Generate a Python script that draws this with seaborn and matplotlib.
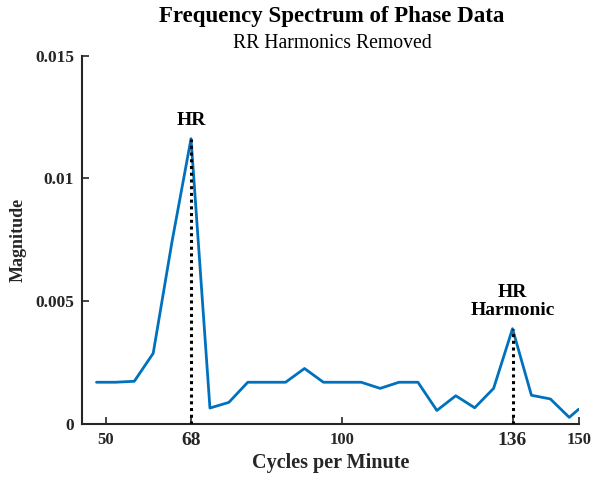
import matplotlib
matplotlib.use("Agg")
import matplotlib.pyplot as plt
import numpy as np
import pandas as pd
import seaborn as sns

# Spectrum values
cycles_per_min = [48, 52, 56, 60, 64, 68, 72, 76, 80, 84, 88, 92, 96, 100,
                  104, 108, 112, 116, 120, 124, 128, 132, 136, 140, 144, 148, 150]
magnitude = [0.00170, 0.00170, 0.00174, 0.00288, 0.00745, 0.01162, 0.00065,
             0.00088, 0.00170, 0.00170, 0.00170, 0.00226, 0.00170, 0.00170,
             0.00170, 0.00145, 0.00170, 0.00170, 0.00055, 0.00115, 0.00066,
             0.00145, 0.00388, 0.00117, 0.00102, 0.00027, 0.00060]

hr_peak = 68
harmonic_peak = 136
peak_labels = {hr_peak: "HR", harmonic_peak: "HR\nHarmonic"}

x_ticks = [50, 68, 100, 136, 150]
y_ticks = [0, 0.005, 0.01, 0.015]
y_tick_labels = ["0", "0.005", "0.01", "0.015"]

sns.set_theme(style="ticks")
plt.rcParams["font.family"] = ["Liberation Serif", "DejaVu Serif"]

df = pd.DataFrame({"cpm": cycles_per_min, "mag": magnitude})

fig = plt.figure(figsize=(6.02, 4.78), dpi=100)
ax = fig.add_axes([0.1367, 0.113, 0.9613 - 0.1367, 0.8835 - 0.113])

sns.lineplot(data=df, x="cpm", y="mag", color="#0072BD", linewidth=2.0, ax=ax)

# dotted markers at the peaks + labels
for f, label in peak_labels.items():
    v = df.loc[df["cpm"] == f, "mag"].iloc[0]
    ax.plot([f, f], [0, v], color="black", linestyle=(0, (1, 1.2)), linewidth=2.2,
            zorder=3)
    ax.text(f, v + 0.0004, label, ha="center", va="bottom", fontsize=14,
            fontweight="bold", linespacing=1.1, color="black")

ax.set_xlim(45, 150)
ax.set_ylim(0, 0.015)
ax.set_xticks(x_ticks)
ax.set_xticklabels([str(t) for t in x_ticks])
ax.set_yticks(y_ticks)
ax.set_yticklabels(y_tick_labels)
for lbl in ax.get_xticklabels():
    lbl.set_fontweight("bold")
    lbl.set_fontsize(14 if lbl.get_text() in ("68", "136") else 12)
for lbl in ax.get_yticklabels():
    lbl.set_fontweight("bold")
    lbl.set_fontsize(12.5)

ax.tick_params(direction="in", length=5, width=1.2, color="#262626",
               labelcolor="#262626", pad=6)
sns.despine(ax=ax)
for side in ("left", "bottom"):
    ax.spines[side].set_linewidth(1.5)
    ax.spines[side].set_color("#262626")

ax.set_xlabel("Cycles per Minute", fontsize=14.5, fontweight="bold",
              color="#262626", labelpad=3)
ax.set_ylabel("Magnitude", fontsize=13, fontweight="bold", color="#262626",
              labelpad=6)

fig.text(0.5515, 0.966, "Frequency Spectrum of Phase Data", ha="center",
         va="center", fontsize=16.5, fontweight="bold", color="black")
fig.text(0.5515, 0.908, "RR Harmonics Removed", ha="center", va="center",
         fontsize=14.2, color="black")

fig.savefig("out.png", dpi=100)
